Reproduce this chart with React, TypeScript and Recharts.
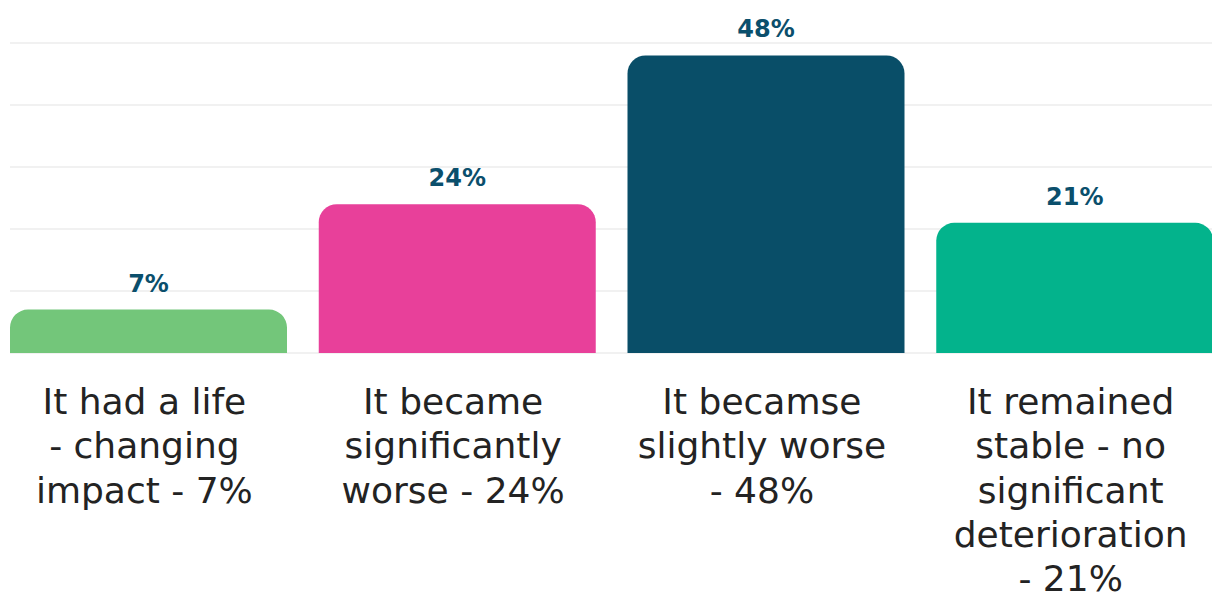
import { BarChart, Bar, XAxis, YAxis, CartesianGrid, Cell, LabelList } from 'recharts';

const categories = [
  'It had a life - changing impact - 7%',
  'It became significantly worse - 24%',
  'It becamse slightly worse - 48%',
  'It remained stable - no significant deterioration - 21%',
];
// line breaks as they appear under each bar
const tickLines = [
  ['It had a life', '- changing', 'impact - 7%'],
  ['It became', 'significantly', 'worse - 24%'],
  ['It becamse', 'slightly worse', '- 48%'],
  ['It remained', 'stable - no', 'significant', 'deterioration', '- 21%'],
];
const values = [7, 24, 48, 21];
const barColors = ['#73c67a', '#e8409a', '#094e68', '#03b38c'];
const yTicks = [0, 10, 20, 30, 40, 50];

const data = categories.map((c, i) => ({ name: c, value: values[i], lines: tickLines[i] }));

const FONT = "'DejaVu Sans', sans-serif";

function CategoryTick(props: any) {
  const { x, y, index } = props;
  const lines = tickLines[index] || [];
  return (
    <text x={x - 4} y={y + 61} textAnchor="middle" fill="#232323" fontSize={36} fontFamily={FONT}>
      {lines.map((l, i) => (
        <tspan key={i} x={x - 4} dy={i === 0 ? 0 : 44.3}>{l}</tspan>
      ))}
    </text>
  );
}

function ValueLabel(props: any) {
  const vb = props.viewBox || {};
  const x = props.x ?? vb.x;
  const y = props.y ?? vb.y;
  const width = props.width ?? vb.width;
  return (
    <text x={x + width / 2} y={y - 18} textAnchor="middle" fill="#0b4f6c" fontSize={24} fontWeight={700} fontFamily={FONT}>
      {props.value}%
    </text>
  );
}

export default function App() {
  return (
    <div style={{ position: 'fixed', left: 0, top: 0, width: 1212, height: 597, overflow: 'hidden', background: '#fff' }}>
      <BarChart width={1212} height={597} data={data} margin={{ top: 43, right: 0, left: 10, bottom: 0 }} barCategoryGap={16}>
        <CartesianGrid vertical={false} stroke="#e4e4e4" strokeWidth={1.2} />
        <YAxis hide domain={[0, 50]} ticks={yTicks} />
        <XAxis
          dataKey="name"
          height={244}
          axisLine={false}
          tickLine={false}
          tickSize={0}
          tickMargin={0}
          interval={0}
          padding={{ left: -16, right: -17 }}
          tick={<CategoryTick />}
        />
        <Bar dataKey="value" radius={[18, 18, 0, 0]} isAnimationActive={false}>
          {data.map((d, i) => <Cell key={i} fill={barColors[i]} />)}
          <LabelList dataKey="value" content={<ValueLabel />} />
        </Bar>
      </BarChart>
    </div>
  );
}
